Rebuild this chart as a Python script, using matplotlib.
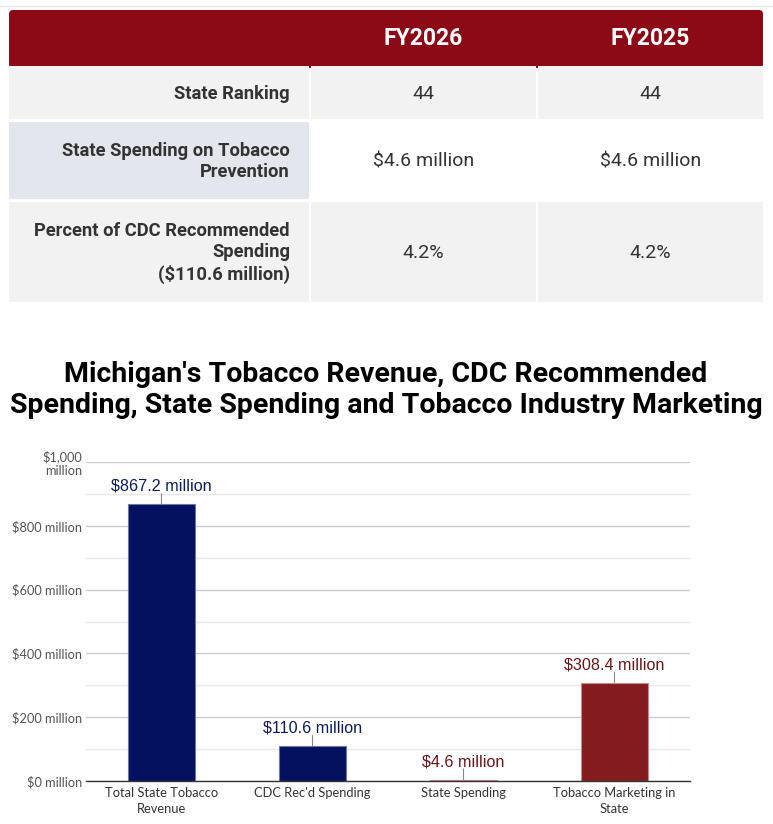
import matplotlib
matplotlib.use("Agg")
import matplotlib.pyplot as plt
from matplotlib.patches import Rectangle, FancyBboxPatch
import numpy as np

# ---- data ----
table_headers = ["FY2026", "FY2025"]
row_labels = ["State Ranking", "State Spending on Tobacco\nPrevention",
              "Percent of CDC Recommended\nSpending\n($110.6 million)"]
fy2026_vals = ["44", "$4.6 million", "4.2%"]
fy2025_vals = ["44", "$4.6 million", "4.2%"]

title = "Michigan's Tobacco Revenue, CDC Recommended\nSpending, State Spending and Tobacco Industry Marketing"
categories = ["Total State Tobacco\nRevenue", "CDC Rec'd Spending", "State Spending", "Tobacco Marketing in\nState"]
values = [867.2, 110.6, 4.6, 308.4]
value_labels = ["$867.2 million", "$110.6 million", "$4.6 million", "$308.4 million"]
bar_colors = ["#03115e", "#03115e", "#841c1f", "#841c1f"]
edge_colors = ["#6f76a6", "#6f76a6", "#c48a8c", "#c48a8c"]
yticks = [0, 200, 400, 600, 800, 1000]
ytick_labels = ["$0 million", "$200 million", "$400 million", "$600 million", "$800 million", "$1,000\nmillion"]

W, H = 773, 824
fig = plt.figure(figsize=(W / 100, H / 100), dpi=100)
fig.patch.set_facecolor("white")

# ---- table (pixel coordinates) ----
bg = fig.add_axes([0, 0, 1, 1])
bg.set_xlim(0, W)
bg.set_ylim(H, 0)
bg.axis("off")

bg.plot([0, W], [6, 6], color="#e6e6e6", lw=1)
bg.add_patch(FancyBboxPatch((9, 10), 754, 58, boxstyle="round,pad=0,rounding_size=4",
                            facecolor="#8b0a16", edgecolor="none"))
cols = [(9, 309), (311, 536), (538, 763)]
rows = [(66, 119), (122, 199), (202, 302)]
row_bg = [["#f2f2f2", "#f2f2f2", "#f2f2f2"],
          ["#e3e6ed", "#ffffff", "#ffffff"],
          ["#f2f2f2", "#f2f2f2", "#f2f2f2"]]
for ri, (y0, y1) in enumerate(rows):
    for ci, (x0, x1) in enumerate(cols):
        bg.add_patch(Rectangle((x0, y0), x1 - x0, y1 - y0, facecolor=row_bg[ri][ci], edgecolor="none"))

for ci, h in enumerate(table_headers):
    x0, x1 = cols[ci + 1]
    bg.text((x0 + x1) / 2, 38, h, ha="center", va="center", color="white",
            fontsize=16.5, fontweight="bold", family="Roboto")
for ri, (y0, y1) in enumerate(rows):
    yc = (y0 + y1) / 2
    bg.text(290, yc + 1, row_labels[ri], ha="right", va="center", color="#333333",
            fontsize=13.2, fontweight="bold", family="Roboto", linespacing=1.25,
            multialignment="right")
    for ci, v in enumerate([fy2026_vals[ri], fy2025_vals[ri]]):
        x0, x1 = cols[ci + 1]
        bg.text((x0 + x1) / 2, yc + 1, v, ha="center", va="center", color="#333333",
                fontsize=14, family="Roboto")

bg.text(386, 390, title, ha="center", va="center", color="black", fontsize=20.5,
        fontweight="bold", family="Roboto", linespacing=1.2)

# ---- bar chart ----
left, right, top, bottom = 86, 690, 462, 781
ax = fig.add_axes([left / W, 1 - bottom / H, (right - left) / W, (bottom - top) / H])
x = np.arange(len(categories))
bars = ax.bar(x, values, width=0.45, color=bar_colors, edgecolor=edge_colors, linewidth=0.8, zorder=3)
ax.set_xlim(-0.5, len(categories) - 0.5)
ax.set_ylim(0, 1000)
ax.set_yticks(yticks)
ax.set_yticklabels(ytick_labels, color="#555555", fontsize=9.2, family="Lato")
ax.set_yticks(np.arange(100, 1000, 200), minor=True)
ax.grid(axis="y", which="major", color="#cccccc", lw=1, zorder=0)
ax.grid(axis="y", which="minor", color="#e8e8e8", lw=1, zorder=0)
ax.tick_params(axis="y", which="both", length=0, pad=3)
ax.tick_params(axis="x", length=0, pad=4)
ax.set_xticks(x)
ax.set_xticklabels(categories, color="#333333", fontsize=9.3, family="Lato", linespacing=1.4)
for s in ["top", "right", "left"]:
    ax.spines[s].set_visible(False)
ax.spines["bottom"].set_color("#333333")
ax.spines["bottom"].set_linewidth(1)
ax.spines["bottom"].set_zorder(4)

label_colors = ["#0d1a5a", "#0d1a5a", "#6b1418", "#6b1418"]
for xi, v, lab, lc in zip(x, values, value_labels, label_colors):
    ax.annotate("", xy=(xi, v), xytext=(0, 7.5), textcoords="offset points",
                arrowprops=dict(arrowstyle="-", color="#888888", lw=0.8, shrinkA=0, shrinkB=0))
    ax.annotate(lab, xy=(xi, v), xytext=(0, 7.5), textcoords="offset points",
                ha="center", va="bottom", color=lc, fontsize=11.6, family="Liberation Sans")

fig.savefig("out.png", dpi=100, facecolor="white")
